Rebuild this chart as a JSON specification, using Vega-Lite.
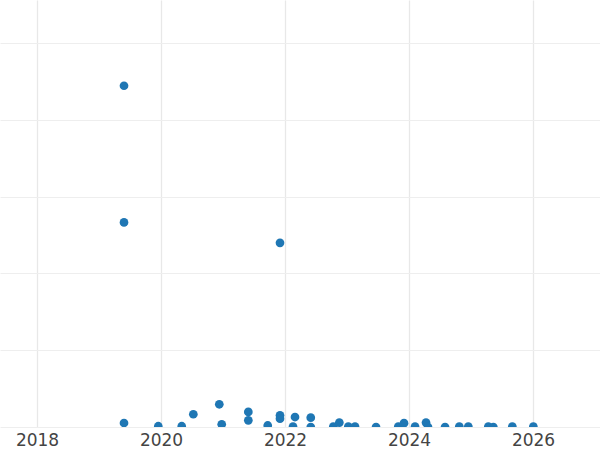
{
  "$schema": "https://vega.github.io/schema/vega-lite/v6.json",
  "width": 600,
  "height": 427,
  "padding": {"left": 0, "top": 0, "right": 0, "bottom": 23},
  "autosize": {"type": "none"},
  "background": "white",
  "config": {"view": {"stroke": null}},
  "data": {"values": [
    {"date": 2019.403, "value": 4.446},
    {"date": 2019.403, "value": 2.665},
    {"date": 2021.919, "value": 2.399},
    {"date": 2019.403, "value": 0.052},
    {"date": 2019.956, "value": 0.01},
    {"date": 2020.334, "value": 0.01},
    {"date": 2020.521, "value": 0.166},
    {"date": 2020.940, "value": 0.296},
    {"date": 2020.979, "value": 0.035},
    {"date": 2021.408, "value": 0.196},
    {"date": 2021.408, "value": 0.087},
    {"date": 2021.721, "value": 0.02},
    {"date": 2021.919, "value": 0.152},
    {"date": 2021.919, "value": 0.109},
    {"date": 2022.161, "value": 0.13},
    {"date": 2022.129, "value": 0.005},
    {"date": 2022.415, "value": 0.122},
    {"date": 2022.415, "value": 0.0},
    {"date": 2022.779, "value": 0.005},
    {"date": 2022.876, "value": 0.057},
    {"date": 2023.021, "value": 0.005},
    {"date": 2023.129, "value": 0.005},
    {"date": 2023.468, "value": 0.0},
    {"date": 2023.827, "value": 0.005},
    {"date": 2023.919, "value": 0.05},
    {"date": 2024.097, "value": 0.005},
    {"date": 2024.274, "value": 0.057},
    {"date": 2024.306, "value": 0.0},
    {"date": 2024.581, "value": 0.0},
    {"date": 2024.811, "value": 0.005},
    {"date": 2024.956, "value": 0.005},
    {"date": 2025.279, "value": 0.005},
    {"date": 2025.360, "value": 0.0},
    {"date": 2025.666, "value": 0.005},
    {"date": 2026.005, "value": 0.005}
  ]},
  "mark": {"type": "circle", "size": 76, "opacity": 1, "color": "#1f77b4", "clip": true},
  "encoding": {
    "x": {
      "field": "date",
      "type": "quantitative",
      "scale": {"domain": [2017.403, 2027.08], "nice": false, "zero": false},
      "axis": {
        "title": null,
        "values": [2018, 2020, 2022, 2024, 2026],
        "format": "d",
        "grid": true,
        "gridColor": "#e8e8e8",
        "gridWidth": 1.3,
        "domain": false,
        "ticks": false,
        "labelFont": "DejaVu Sans",
        "labelFontSize": 17,
        "labelColor": "#444444",
        "labelPadding": 5
      }
    },
    "y": {
      "field": "value",
      "type": "quantitative",
      "scale": {"domain": [0, 5.563], "nice": false},
      "axis": {
        "title": null,
        "values": [0, 1, 2, 3, 4, 5],
        "labels": false,
        "grid": true,
        "gridColor": "#eeeeee",
        "gridWidth": 1,
        "domain": false,
        "ticks": false
      }
    }
  }
}
